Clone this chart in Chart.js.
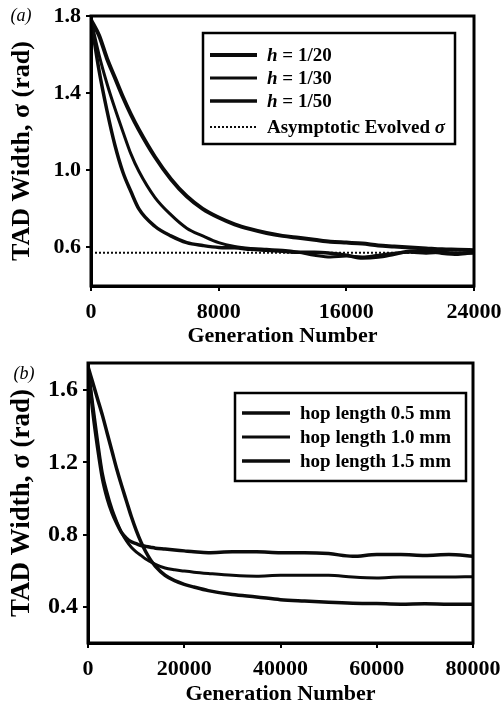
<!DOCTYPE html>
<html>
<head>
<meta charset="utf-8">
<script src="https://cdn.jsdelivr.net/npm/chart.js@4.4.1/dist/chart.umd.min.js"></script>
<style>
  body { margin: 0; background: #fff; }
  #wrapA { position: absolute; left: 0; top: 0; }
  #wrapB { position: absolute; left: 0; top: 350px; }
</style>
</head>
<body>
<div id="wrapA"><canvas id="chartA" width="502" height="350"></canvas></div>
<div id="wrapB"><canvas id="chartB" width="502" height="358"></canvas></div>
<script>
// panel (a) data
var genA = [0, 500, 1000, 1500, 2000, 2500, 3000, 4000, 5000, 6000, 7000, 8000, 9000, 10000,
  11000, 12000, 13000, 14000, 15000, 16000, 17000, 18000, 19000, 20000, 21000, 22000, 23000, 24000];
var h20 = [1.78, 1.70, 1.58, 1.48, 1.38, 1.29, 1.21, 1.07, 0.955, 0.865, 0.80, 0.755, 0.72, 0.695,
  0.675, 0.66, 0.65, 0.64, 0.63, 0.625, 0.62, 0.61, 0.605, 0.60, 0.595, 0.59, 0.588, 0.585];
var h30 = [1.78, 1.60, 1.45, 1.32, 1.20, 1.085, 0.995, 0.86, 0.77, 0.70, 0.66, 0.625, 0.605, 0.595,
  0.59, 0.585, 0.575, 0.56, 0.55, 0.555, 0.55, 0.56, 0.57, 0.575, 0.57, 0.575, 0.57, 0.57];
var h50 = [1.78, 1.52, 1.31, 1.13, 0.99, 0.89, 0.80, 0.71, 0.66, 0.625, 0.61, 0.60, 0.598, 0.59,
  0.585, 0.58, 0.575, 0.575, 0.57, 0.56, 0.545, 0.55, 0.565, 0.58, 0.58, 0.57, 0.565, 0.575];
var asymptote = 0.572;
var labelsA = ["h = 1/20", "h = 1/30", "h = 1/50", "Asymptotic Evolved σ"];
var xTicksA = [0, 8000, 16000, 24000];
var yTicksA = [0.6, 1.0, 1.4, 1.8];

// panel (b) data
var genB = [0, 1000, 2000, 3000, 4000, 5000, 6000, 7000, 8000, 9000, 10000, 11000, 12000, 13000,
  14000, 16000, 18000, 20000, 22000, 25000, 30000, 35000, 40000, 45000, 50000, 55000, 60000,
  65000, 70000, 75000, 80000];
var hop05 = [1.73, 1.48, 1.28, 1.11, 1.00, 0.92, 0.86, 0.81, 0.78, 0.76, 0.75, 0.74, 0.735, 0.73,
  0.725, 0.72, 0.715, 0.71, 0.705, 0.70, 0.705, 0.705, 0.70, 0.70, 0.695, 0.68, 0.69,
  0.69, 0.685, 0.69, 0.68];
var hop10 = [1.73, 1.52, 1.32, 1.14, 1.03, 0.94, 0.87, 0.81, 0.765, 0.73, 0.705, 0.685, 0.665, 0.65,
  0.635, 0.615, 0.605, 0.598, 0.592, 0.585, 0.575, 0.57, 0.575, 0.575, 0.575, 0.565, 0.56,
  0.565, 0.565, 0.565, 0.567];
var hop15 = [1.73, 1.64, 1.55, 1.46, 1.36, 1.26, 1.16, 1.07, 0.985, 0.90, 0.825, 0.76, 0.705, 0.66,
  0.625, 0.575, 0.545, 0.525, 0.51, 0.49, 0.468, 0.455, 0.44, 0.432, 0.425, 0.42, 0.418,
  0.415, 0.417, 0.415, 0.415];
var labelsB = ["hop length 0.5 mm", "hop length 1.0 mm", "hop length 1.5 mm"];
var xTicksB = [0, 20000, 40000, 60000, 80000];
var yTicksB = [0.4, 0.8, 1.2, 1.6];

var serif = '"Liberation Serif", "Times New Roman", serif';
var ink = "#0b0b0b";

function pts(xs, ys) {
  return xs.map(function (x, i) { return { x: x, y: ys[i] }; });
}

function line(label, data, width) {
  return {
    label: label, data: data, borderColor: ink, borderWidth: width,
    pointRadius: 0, fill: false, cubicInterpolationMode: "monotone"
  };
}

// draws "h" and "σ" in italic, the rest upright
function richText(ctx, text, x, y, size) {
  var parts = text.split(/(^h(?= )|σ)/);
  parts.forEach(function (p) {
    if (!p) return;
    var it = (p === "h" || p === "σ");
    ctx.font = (it ? "italic " : "") + "bold " + size + "px " + serif;
    ctx.fillText(p, x, y);
    x += ctx.measureText(p).width;
  });
}

var framePlugin = {
  id: "frame",
  afterDraw: function (chart, args, opts) {
    var ctx = chart.ctx, a = chart.chartArea;
    ctx.save();
    ctx.strokeStyle = "#000";
    ctx.lineWidth = 3;
    ctx.strokeRect(a.left, a.top, a.right - a.left, a.bottom - a.top);

    // legend box
    var b = opts.box;
    ctx.fillStyle = "#fff";
    ctx.fillRect(b.x, b.y, b.w, b.h);
    ctx.lineWidth = 2.5;
    ctx.strokeRect(b.x, b.y, b.w, b.h);
    ctx.textBaseline = "middle";
    ctx.fillStyle = "#000";
    chart.data.datasets.forEach(function (ds, i) {
      var y = opts.rows[i];
      ctx.beginPath();
      ctx.strokeStyle = ink;
      ctx.lineWidth = ds.borderWidth;
      ctx.setLineDash(ds.borderDash || []);
      ctx.moveTo(opts.sample[0], y);
      ctx.lineTo(opts.sample[1], y);
      ctx.stroke();
      ctx.setLineDash([]);
      richText(ctx, ds.label, opts.textX, y + 1, opts.fontSize);
    });

    // panel tag
    ctx.font = "italic 18px " + serif;
    ctx.textAlign = "center";
    ctx.fillText(opts.tag.text, opts.tag.x, opts.tag.y);
    ctx.restore();
  }
};

function axes(xMin, xMax, xTicks, yMin, yMax, yTicks, yWidth, xHeight, yTickSize, yTitleSize, yTitlePad) {
  return {
    x: {
      type: "linear", min: xMin, max: xMax,
      afterBuildTicks: function (s) { s.ticks = xTicks.map(function (v) { return { value: v }; }); },
      afterFit: function (s) { s.height = xHeight; s.paddingLeft = 0; s.paddingRight = 0; },
      grid: { drawOnChartArea: false, drawTicks: true, tickLength: 5, color: "#000", lineWidth: 2 },
      border: { display: true, color: "#000", width: 3 },
      ticks: { font: { family: serif, size: 22, weight: "bold" }, color: "#000", padding: 8,
        maxRotation: 0, autoSkip: false,
        callback: function (v) { return String(v); } },
      title: { display: true, text: "Generation Number", color: "#000",
        font: { family: serif, size: 22, weight: "bold" }, padding: { top: 0, bottom: 0 } }
    },
    y: {
      min: yMin, max: yMax,
      afterBuildTicks: function (s) { s.ticks = yTicks.map(function (v) { return { value: v }; }); },
      afterFit: function (s) { s.width = yWidth; s.paddingTop = 0; s.paddingBottom = 0; },
      grid: { drawOnChartArea: false, drawTicks: true, tickLength: 5, color: "#000", lineWidth: 2 },
      border: { display: true, color: "#000", width: 3 },
      ticks: { font: { family: serif, size: yTickSize, weight: "bold" }, color: "#000", padding: 5,
        callback: function (v) { return v.toFixed(1); } },
      title: { display: true, text: "TAD Width, σ (rad)", color: "#000",
        font: { family: serif, size: yTitleSize, weight: "bold" }, padding: { top: yTitlePad, bottom: 0 } }
    }
  };
}

new Chart(document.getElementById("chartA"), {
  type: "line",
  data: {
    datasets: [
      line(labelsA[0], pts(genA, h20), 4),
      line(labelsA[1], pts(genA, h30), 3),
      line(labelsA[2], pts(genA, h50), 3.5),
      Object.assign(line(labelsA[3], pts([0, 24000], [asymptote, asymptote]), 2), { borderDash: [2, 2] })
    ]
  },
  options: {
    responsive: false, animation: false, devicePixelRatio: 1,
    layout: { padding: { top: 16, right: 28, bottom: 0, left: 0 } },
    plugins: {
      legend: { display: false }, tooltip: { enabled: false },
      frame: {
        box: { x: 203, y: 33, w: 252, h: 111 },
        rows: [55, 78, 101, 127], sample: [210, 257], textX: 267, fontSize: 19,
        tag: { text: "(a)", x: 21, y: 16 }
      }
    },
    scales: axes(0, 24000, xTicksA, 0.4, 1.8, yTicksA, 91, 64, 22, 26, 7)
  },
  plugins: [framePlugin]
});

new Chart(document.getElementById("chartB"), {
  type: "line",
  data: {
    datasets: [
      line(labelsB[0], pts(genB, hop05), 3.5),
      line(labelsB[1], pts(genB, hop10), 3),
      line(labelsB[2], pts(genB, hop15), 3.5)
    ]
  },
  options: {
    responsive: false, animation: false, devicePixelRatio: 1,
    layout: { padding: { top: 13, right: 29, bottom: 0, left: 0 } },
    plugins: {
      legend: { display: false }, tooltip: { enabled: false },
      frame: {
        box: { x: 235, y: 43, w: 231, h: 88 },
        rows: [63, 87, 111], sample: [242, 290], textX: 300, fontSize: 19,
        tag: { text: "(b)", x: 24, y: 24 }
      }
    },
    scales: axes(0, 80000, xTicksB, 0.2, 1.75, yTicksB, 88, 65, 24, 27, 6)
  },
  plugins: [framePlugin]
});
</script>
</body>
</html>
